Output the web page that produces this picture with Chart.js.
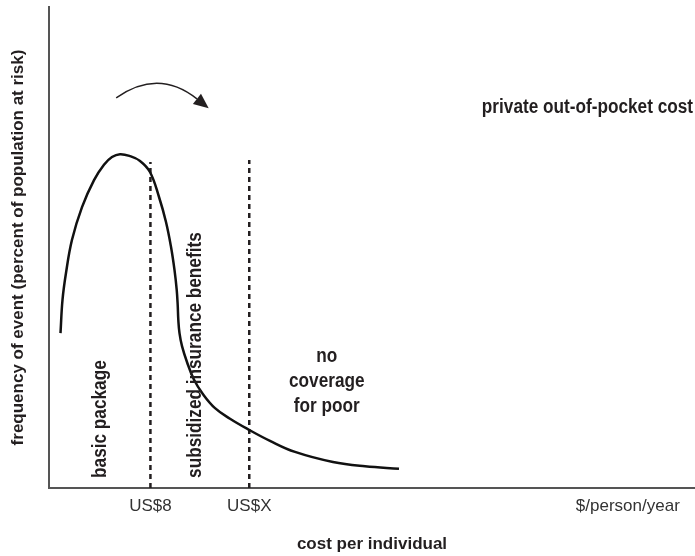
<!DOCTYPE html>
<html>
<head>
<meta charset="utf-8">
<script src="https://cdn.jsdelivr.net/npm/chart.js@4.4.1/dist/chart.umd.min.js"></script>
<style>
html, body { margin: 0; padding: 0; background: #fff; }
#wrap { width: 695px; height: 556px; }
</style>
</head>
<body>
<div id="wrap"><canvas id="chart"></canvas></div>
<script>
// both axes run 0..100 in arbitrary units (schematic figure)
const curveCost = [1.78, 2.09, 2.63, 3.56, 5.11, 6.97, 8.51, 9.75, 10.99, 12.54, 14.09, 15.63, 17.03, 18.11, 18.89, 19.43, 19.77, 19.92, 20.02, 20.20, 20.59, 21.36, 22.45, 23.84, 25.70, 28.02, 30.96, 34.21, 38.08, 43.96, 48.92, 54.18];
const curveFreq = [32.2, 39.1, 44.7, 51.6, 58.4, 64.0, 67.2, 68.8, 69.4, 69.0, 68.0, 65.7, 60.5, 55.3, 50.1, 45.3, 41.2, 38.1, 34.9, 32.2, 29.5, 26.2, 22.5, 19.5, 16.6, 14.4, 12.1, 9.8, 7.5, 5.4, 4.5, 4.0];
const thresholdCost = [15.7, 31.0];
const thresholdTop = [67.8, 68.2];
const tickCost = [15.7, 31.0, 89.6];
const tickLabels = ["US$8", "US$X", "$/person/year"];
const regionLabels = ["basic package", "subsidized insurance benefits"];
const noCoverLines = ["no", "coverage", "for poor"];
const cornerLabel = "private out-of-pocket cost";

const FONT = "'Liberation Sans Narrow', 'Arial Narrow', 'Liberation Sans', sans-serif";
const INK = "#231f20";

const curve = curveCost.map((c, i) => ({ x: c, y: curveFreq[i] }));
const thresholds = thresholdCost.map((c, i) => ({
    type: "line",
    data: [{ x: c, y: 0 }, { x: c, y: thresholdTop[i] }],
    borderColor: INK,
    borderWidth: 2.5,
    borderDash: [5, 4],
    pointRadius: 0
}));

// squeeze the sans face a little so it reads like the narrow type of the figure
function narrowText(ctx, text, px, py, align, angle) {
    ctx.save();
    ctx.translate(px, py);
    if (angle) ctx.rotate(angle);
    ctx.scale(0.86, 1);
    ctx.textAlign = align;
    ctx.textBaseline = "middle";
    ctx.fillText(text, 0, 0);
    ctx.restore();
}

// text and arrow drawn on top, placed in data units
const notes = {
    id: "notes",
    afterDatasetsDraw(chart) {
        const { ctx, scales: { x, y } } = chart;
        ctx.save();
        ctx.fillStyle = INK;
        ctx.strokeStyle = INK;
        ctx.font = "bold 20px " + FONT;

        const regionAnchors = [[7.9, 2.1], [22.6, 2.1]];
        regionLabels.forEach((t, i) => {
            narrowText(ctx, t, x.getPixelForValue(regionAnchors[i][0]),
                y.getPixelForValue(regionAnchors[i][1]), "left", -Math.PI / 2);
        });

        const ncx = x.getPixelForValue(43.0);
        const ncy = y.getPixelForValue(27.4);
        noCoverLines.forEach((t, i) => narrowText(ctx, t, ncx, ncy + i * 25, "center", 0));

        narrowText(ctx, cornerLabel, x.getPixelForValue(99.7), y.getPixelForValue(79.2), "right", 0);

        // curved arrow
        const p0 = [x.getPixelForValue(10.4), y.getPixelForValue(81.1)];
        const c = [x.getPixelForValue(16.9), y.getPixelForValue(87.3)];
        const p2 = [x.getPixelForValue(22.9), y.getPixelForValue(80.9)];
        ctx.lineWidth = 1.4;
        ctx.beginPath();
        ctx.moveTo(p0[0], p0[1]);
        ctx.quadraticCurveTo(c[0], c[1], p2[0], p2[1]);
        ctx.stroke();
        const dx = p2[0] - c[0], dy = p2[1] - c[1];
        const len = Math.hypot(dx, dy);
        const ux = dx / len, uy = dy / len;
        const tip = [p2[0] + ux * 15, p2[1] + uy * 15];
        ctx.beginPath();
        ctx.moveTo(tip[0], tip[1]);
        ctx.lineTo(p2[0] - uy * 6.5, p2[1] + ux * 6.5);
        ctx.lineTo(p2[0] + uy * 6.5, p2[1] - ux * 6.5);
        ctx.closePath();
        ctx.fill();
        ctx.restore();
    }
};

new Chart(document.getElementById("chart"), {
    type: "line",
    data: {
        datasets: [
            {
                data: curve,
                borderColor: "#111",
                borderWidth: 2.5,
                pointRadius: 0,
                tension: 0.4
            },
            ...thresholds
        ]
    },
    options: {
        responsive: true,
        maintainAspectRatio: false,
        animation: false,
        layout: { padding: { top: 7, right: 0, left: 0, bottom: 0 } },
        plugins: { legend: { display: false }, tooltip: { enabled: false } },
        scales: {
            x: {
                type: "linear",
                min: 0,
                max: 100,
                grid: { display: false, drawTicks: false },
                border: { display: true, color: "#555", width: 2 },
                afterBuildTicks: (s) => { s.ticks = tickCost.map((v) => ({ value: v })); },
                afterFit: (s) => { s.height = 68; },
                ticks: {
                    autoSkip: false,
                    maxRotation: 0,
                    padding: 8,
                    color: "#333",
                    font: { family: FONT, size: 17 },
                    callback: (v, i) => tickLabels[i]
                },
                title: {
                    display: true,
                    text: "cost per individual",
                    color: INK,
                    padding: { top: 0, bottom: 1 },
                    font: { family: FONT, size: 17, weight: "bold" }
                }
            },
            y: {
                type: "linear",
                min: 0,
                max: 100,
                grid: { display: false, drawTicks: false },
                border: { display: true, color: "#555", width: 2 },
                ticks: { display: false },
                afterFit: (s) => { s.width = 49; },
                title: {
                    display: true,
                    text: "frequency of event (percent of population at risk)",
                    color: INK,
                    padding: { top: 8, bottom: 0 },
                    font: { family: FONT, size: 17, weight: "bold" }
                }
            }
        }
    },
    plugins: [notes]
});
</script>
</body>
</html>
